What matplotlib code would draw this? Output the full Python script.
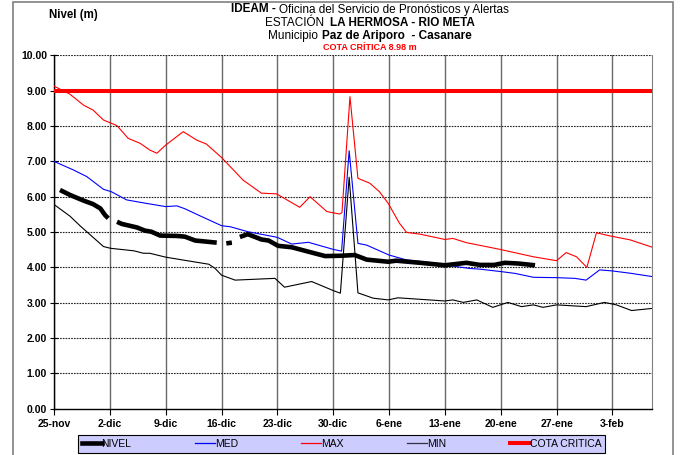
import numpy as np
import matplotlib
matplotlib.use("Agg")
import matplotlib.pyplot as plt
from matplotlib.lines import Line2D
from matplotlib.patches import Rectangle
from matplotlib import font_manager

# ---------------- data (days after 25-nov) ----------------
tick_days = [0, 7, 14, 21, 28, 35, 42, 49, 56, 63, 70]
tick_labels = ["25-nov", "2-dic", "9-dic", "16-dic", "23-dic", "30-dic",
               "6-ene", "13-ene", "20-ene", "27-ene", "3-feb"]

cota_critica = 8.98

max_days = [0, 2, 3.7, 4.9, 6.2, 7.9, 9.3, 10.8, 12, 12.9, 14, 16.2, 17.9, 19.1,
            21, 23.7, 26, 27.9, 29.2, 30.8, 32.1, 34.2, 35.8, 36.1, 37.1, 38.1,
            39.6, 40.8, 41.9, 43.3, 44.2, 45.9, 49, 50, 51.7, 55.9, 60.1, 63,
            64.2, 65.5, 66.8, 68, 69.7, 72.2, 75]
max_vals = [9.13, 8.90, 8.59, 8.45, 8.17, 8.01, 7.65, 7.51, 7.32, 7.23, 7.46, 7.84,
            7.60, 7.49, 7.11, 6.47, 6.10, 6.08, 5.91, 5.70, 6.00, 5.58, 5.51, 5.55,
            8.83, 6.52, 6.38, 6.14, 5.81, 5.25, 4.99, 4.94, 4.79, 4.82, 4.70, 4.51,
            4.30, 4.19, 4.42, 4.30, 4.00, 4.98, 4.89, 4.78, 4.57]

med_days = [0, 2.4, 4.1, 6.2, 7.2, 9.1, 11.6, 14, 15.4, 16.4, 18.1, 21, 22.1, 24.3,
            28, 29.8, 31.9, 35, 36.05, 37.0, 38.1, 39.2, 42, 44.2, 47.1, 49, 52.1,
            53.4, 56.1, 57.8, 60.1, 63, 65.3, 66.7, 68.4, 70, 72.4, 75]
med_vals = [7.00, 6.76, 6.57, 6.21, 6.14, 5.91, 5.81, 5.72, 5.74, 5.66, 5.48, 5.18,
            5.15, 5.01, 4.85, 4.66, 4.71, 4.51, 4.46, 7.30, 4.68, 4.63, 4.35, 4.21,
            4.14, 4.07, 3.97, 3.95, 3.88, 3.83, 3.72, 3.71, 3.69, 3.64, 3.93, 3.90,
            3.83, 3.74]

min_days = [0, 2.0, 3.3, 4.1, 6.2, 7.1, 10.0, 11.2, 12.0, 14.0, 16.4, 19.4, 20.2,
            21.0, 22.7, 27.7, 28.9, 30.8, 32.3, 35.05, 35.9, 37.0, 38.1, 40.0, 41.9,
            43.1, 49.0, 50.0, 51.3, 53.0, 55.0, 56.9, 58.6, 60.1, 61.3, 63.0, 66.7,
            69.0, 70.5, 72.4, 75]
min_vals = [5.78, 5.45, 5.17, 5.01, 4.59, 4.54, 4.47, 4.40, 4.40, 4.29, 4.20, 4.09,
            3.97, 3.78, 3.64, 3.69, 3.44, 3.53, 3.60, 3.34, 3.27, 6.55, 3.28, 3.13,
            3.08, 3.14, 3.05, 3.08, 3.01, 3.08, 2.87, 3.01, 2.89, 2.94, 2.87, 2.94,
            2.89, 3.01, 2.94, 2.78, 2.84]

# NIVEL: None marks gaps in the record
nivel_days = [0.75, 2, 3.7, 4.9, 5.8, 6.4, 6.8, None,
              7.9, 8.5, 10.4, 11.4, 12.2, 13.3, 15.4, 16.4, 17.7, 20.4, None,
              21.6, 22.3, None,
              23.3, 24.3, 26.0, 26.9, 28.1, 29.8, 32.3, 34.0, 36.0, 37.7, 39.2,
              41.9, 42.9, 45.9, 49.0, 51.7, 53.4, 55.2, 56.5, 58.2, 60.3]
nivel_vals = [6.19, 6.05, 5.89, 5.79, 5.67, 5.48, 5.39, None,
              5.29, 5.23, 5.13, 5.04, 5.01, 4.90, 4.89, 4.87, 4.76, 4.70, None,
              4.68, 4.70, None,
              4.86, 4.94, 4.79, 4.76, 4.61, 4.57, 4.42, 4.32, 4.33, 4.35, 4.22,
              4.16, 4.19, 4.13, 4.06, 4.13, 4.07, 4.07, 4.13, 4.11, 4.06]

# ---------------- fonts ----------------
avail = {f.name for f in font_manager.fontManager.ttflist}
FAM = "Liberation Sans Narrow" if "Liberation Sans Narrow" in avail else "Liberation Sans"
plt.rcParams["font.family"] = [FAM, "DejaVu Sans"]

W, H = 681, 455
fig = plt.figure(figsize=(W / 100, H / 100), dpi=100)
ax = fig.add_axes([54 / W, 1 - 408.8 / H, (652.3 - 54) / W, (408.8 - 55.3) / H])

def arr(v):
    return np.array([np.nan if x is None else x for x in v], dtype=float)

ax.set_xlim(0, 75)
ax.set_ylim(0, 10)

# grid
for d in tick_days:
    ax.axvline(d, color="#6a6a6a", lw=1.0, zorder=1)
for yv in range(1, 11):
    ax.axhline(yv, color="#222222", lw=0.8, ls=(0, (1.5, 1.0)), zorder=1)

ax.plot(min_days, min_vals, color="#000000", lw=0.8, zorder=3)
ax.plot(med_days, med_vals, color="#0000FF", lw=0.8, zorder=3)
ax.plot(max_days, max_vals, color="#FF0000", lw=0.8, zorder=3)
ax.plot(arr(nivel_days), arr(nivel_vals), color="#000000", lw=3.3,
        solid_capstyle="butt", zorder=4)
ax.axhline(cota_critica, color="#FF0000", lw=2.9, zorder=5)

ax.set_xticks(tick_days)
ax.set_xticklabels(tick_labels, fontsize=7.5, fontweight="bold")
ax.set_yticks(np.arange(0, 11, 1))
ax.set_yticklabels([f"{v:.2f}" for v in range(11)], fontsize=7.5, fontweight="bold")
ax.tick_params(axis="y", direction="inout", length=6, width=0.8, pad=2)
ax.tick_params(axis="x", direction="out", length=4, width=0.8, pad=3)

ax.spines["top"].set_visible(False)
ax.spines["right"].set_color("#808080")
ax.spines["left"].set_linewidth(1.0)
ax.spines["bottom"].set_linewidth(1.0)

# outer border
fig.patches.append(Rectangle((12.5 / W, -0.05), (673 - 12.5) / W, 1.05 - 1.5 / H,
                             transform=fig.transFigure, fill=False,
                             edgecolor="#808080", lw=1.2))

# texts
fig.text(49 / W, 1 - 15 / H, "Nivel (m)", fontsize=8.3, fontweight="bold",
         ha="left", va="center")

renderer = fig.canvas.get_renderer()

def rich_line(ycen, parts, size, color="black", xc=370):
    ts = []
    for s, wgt in parts:
        t = fig.text(0, 1 - ycen / H, s, fontsize=size, fontweight=wgt,
                     color=color, ha="left", va="center")
        ts.append(t)
    ws = [t.get_window_extent(renderer).width for t in ts]
    x = xc - sum(ws) / 2
    for t, w in zip(ts, ws):
        t.set_x(x / W)
        x += w

rich_line(9.5, [("IDEAM - ", "bold"), ("Oficina del Servicio de Pronósticos y Alertas", "normal")], 8.5)
rich_line(23, [("ESTACIÓN  ", "normal"), ("LA HERMOSA - RIO META", "bold")], 8.5)
rich_line(36, [("Municipio ", "normal"), ("Paz de Ariporo  - Casanare", "bold")], 8.5)
rich_line(48, [("COTA CRÍTICA 8.98 m", "bold")], 6.5, color="#FF0000")

handles = [Line2D([], [], color="black", lw=3.3),
           Line2D([], [], color="#0000FF", lw=0.9),
           Line2D([], [], color="#FF0000", lw=0.9),
           Line2D([], [], color="#333344", lw=0.9),
           Line2D([], [], color="#FF0000", lw=2.9)]
labels = ["NIVEL", "MED", "MAX", "MIN", "COTA CRITICA"]
leg = fig.legend(handles, labels, loc="center", ncol=5,
                 bbox_to_anchor=(341.5 / W, 1 - 444 / H), fontsize=7.5,
                 frameon=True, fancybox=False, handlelength=1.9,
                 handletextpad=0.0, columnspacing=6.1, borderpad=0.35,
                 borderaxespad=0)
fr = leg.get_frame()
fr.set_facecolor("#CCCCFF")
fr.set_edgecolor("black")
fr.set_linewidth(0.8)
fr.set_alpha(1)

fig.savefig("out.png", dpi=100)
